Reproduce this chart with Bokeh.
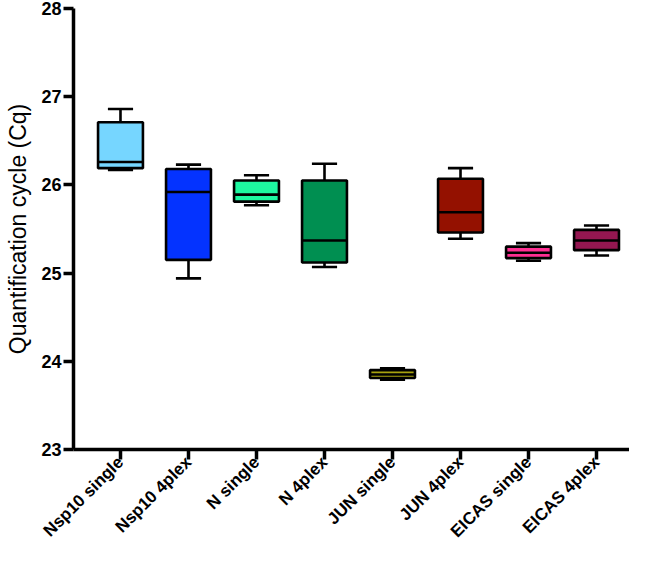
import math
from bokeh.plotting import figure
from bokeh.models import FixedTicker, Range1d, ColumnDataSource
from bokeh.embed import file_html
from bokeh.resources import INLINE

cats = ["Nsp10 single", "Nsp10 4plex", "N single", "N 4plex",
        "JUN single", "JUN 4plex", "EICAS single", "EICAS 4plex"]
whisker_low = [26.17, 24.94, 25.77, 25.07, 23.79, 25.39, 25.14, 25.20]
q1 = [26.19, 25.15, 25.81, 25.12, 23.81, 25.46, 25.17, 25.26]
median = [26.26, 25.92, 25.89, 25.37, 23.85, 25.69, 25.23, 25.37]
q3 = [26.71, 26.18, 26.05, 26.05, 23.90, 26.07, 25.30, 25.49]
whisker_high = [26.86, 26.23, 26.11, 26.24, 23.92, 26.19, 25.34, 25.54]
colors = ["#76d6ff", "#0433ff", "#1ef7a0", "#008f51",
          "#a8a20f", "#941100", "#ff2f92", "#941751"]
y_ticks = [23, 24, 25, 26, 27, 28]

xs = list(range(len(cats)))
box_w = 0.66
cap_w = 0.37

src = ColumnDataSource(dict(
    x=xs, lo=whisker_low, q1=q1, med=median, q3=q3, hi=whisker_high,
    color=colors,
    bl=[x - box_w / 2 for x in xs], br=[x + box_w / 2 for x in xs],
    cl=[x - cap_w / 2 for x in xs], cr=[x + cap_w / 2 for x in xs],
))

p = figure(width=629, height=550, output_backend="svg", toolbar_location=None,
           x_range=Range1d(-0.691, 7.485), y_range=Range1d(y_ticks[0], y_ticks[-1]),
           min_border_left=73, min_border_right=0, min_border_top=8,
           min_border_bottom=95)
p.outline_line_color = None
p.xgrid.visible = False
p.ygrid.visible = False
p.background_fill_color = "white"
p.border_fill_color = "white"

lw = 2.6
p.segment(x0="x", y0="q3", x1="x", y1="hi", source=src, line_color="black", line_width=lw)
p.segment(x0="x", y0="lo", x1="x", y1="q1", source=src, line_color="black", line_width=lw)
p.segment(x0="cl", y0="hi", x1="cr", y1="hi", source=src, line_color="black", line_width=lw)
p.segment(x0="cl", y0="lo", x1="cr", y1="lo", source=src, line_color="black", line_width=lw)
p.quad(left="bl", right="br", bottom="q1", top="q3", source=src,
       fill_color="color", line_color="black", line_width=lw)
p.segment(x0="bl", y0="med", x1="br", y1="med", source=src, line_color="black", line_width=lw)

for ax in (p.xaxis[0], p.yaxis[0]):
    ax.axis_line_width = 3.5
    ax.axis_line_color = "black"
    ax.major_tick_line_width = 3.5
    ax.major_tick_line_color = "black"
    ax.major_tick_out = 10
    ax.major_tick_in = 0
    ax.minor_tick_line_color = None
    ax.major_label_text_font = "Liberation Sans"
    ax.major_label_text_font_style = "bold"
    ax.major_label_text_color = "black"

p.xaxis.ticker = FixedTicker(ticks=xs)
p.xaxis.major_label_overrides = {i: c for i, c in zip(xs, cats)}
p.xaxis.major_label_orientation = math.pi / 4
p.xaxis.major_label_text_font_size = "17px"
p.xaxis.major_label_standoff = 0

p.yaxis.ticker = FixedTicker(ticks=y_ticks)
p.yaxis.major_label_text_font_size = "18px"
p.yaxis.major_label_standoff = 2
p.yaxis.axis_label = "Quantification cycle (Cq)"
p.yaxis.axis_label_text_font = "Liberation Sans"
p.yaxis.axis_label_text_font_style = "normal"
p.yaxis.axis_label_text_font_size = "23px"
p.yaxis.axis_label_text_color = "black"
p.yaxis.axis_label_standoff = 7

open("out.html", "w").write(file_html(p, INLINE))
